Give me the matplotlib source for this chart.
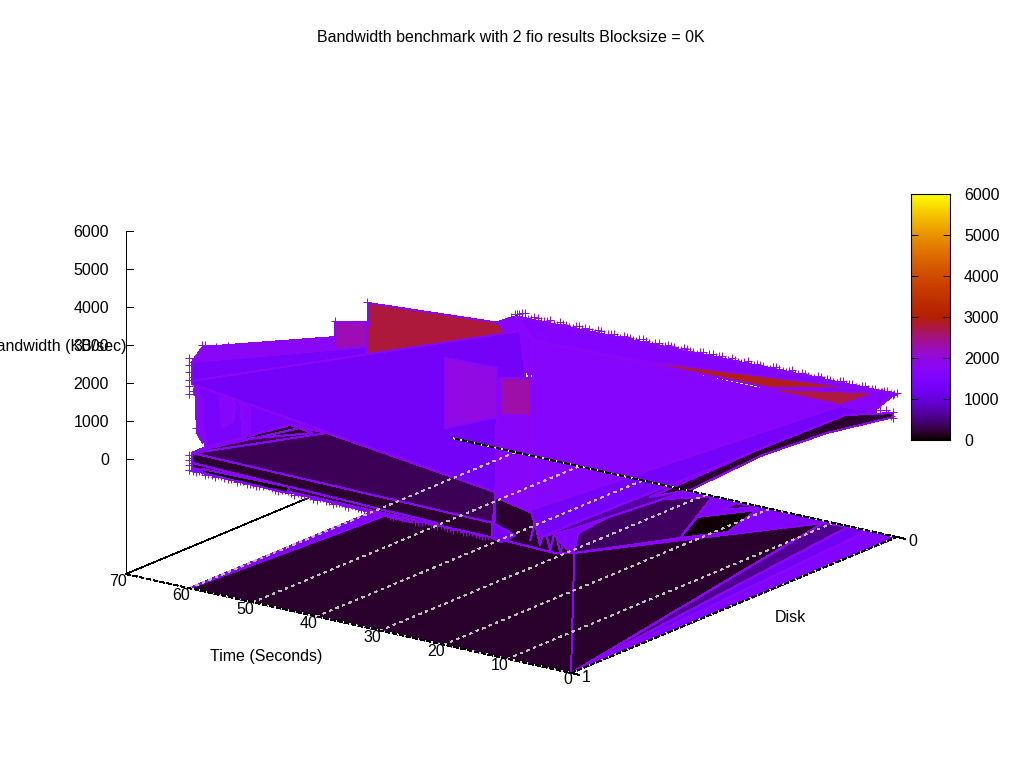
import numpy as np
import matplotlib
matplotlib.use("Agg")
import matplotlib.pyplot as plt
from matplotlib.colors import ListedColormap, Normalize
from matplotlib.patches import Polygon

plt.rcParams['font.family'] = ['Liberation Sans', 'DejaVu Sans']

TITLE = "Bandwidth benchmark with 2 fio results Blocksize = 0K"
XLABEL = "Time (Seconds)"
YLABEL = "Disk"
ZLABEL = "Bandwidth (KB/sec)"
time_ticks = [0, 10, 20, 30, 40, 50, 60, 70]
disk_ticks = [0, 1]
z_ticks = [0, 1000, 2000, 3000, 4000, 5000, 6000]
BASE = -3026

# ---- floor layers: (time, disk), colour value
floor_layers = [
    ([60, 0, 0, 60], [1, 1, 0, 0], 1500),
    ([60, 0, 11.0, 29.2, 57.6], [1, 1, 0.012, 0.421, 0.40], 170),
    ([0, 11.0, 7.5], [1, 0.012, 0.004], 600),
    ([0, 7.5, 4.5], [1, 0.004, 0], 1200),
    ([29.2, 22.0, 28.8, 35.5, 33.7], [0.421, 0.236, 0.005, 0.097, 0.321], 380),
    ([22.0, 18.56, 21.0, 25.43], [0.236, 0.156, 0.02, 0.117], 40),
    ([24.6, 24.98, 21.63], [0.057, 0.01, 0.004], 400),
]

# ---- surface layers: (time, disk, bandwidth), colour value, painted back to front
strip_top = ([59.7, 0.3, 3.1, 57.2], [0, 0, 0, 0], [550, 730, 253, 29], 1550)
red_sliver = ([41.5, 6.3, 20.0], [0, 0, 0], [87, 661, 153], 2900)
red_wedge = ([21.5, 3.1, 9.0], [0, 0, 0], [92, 648, 113], 2750)
back_band = ([57.9, 37.1, 37.1, 59.6], [1, 1, 1, 1], [3400, 4434, 4119, 2941], 1750)
magenta_tab = ([37.1, 32.1, 32.1, 37.1], [1, 1, 1, 1], [4829, 5019, 4282, 4119], 2250)
red_wall = ([31.9, 9.1, 9.1, 32.1], [1, 1, 1, 1], [5524, 5792, 5582, 4150], 2780)
blue_fan = ([59.6, 32.1, 32.1, 59.6], [1, 1, 1, 1], [2941, 4361, 4150, 2415], 1320)
crest = ([11.6, 8.5, 6.0, 6.4, 9.6], [1, 1, 1, 1, 1], [5777, 6050, 5516, 4498, 5379], 1650)
under_blue = ([59.1, 58.8, 57.5, 57.5, 53.1, 44.2, 38.4, 36.3], [1] * 8,
              [2353, 1129, 1174, 779, 1129, 1856, 1862, 2016], 1350)
left_strip = ([59.1, 57.9, 57.9, 58.8], [1] * 4, [2300, 2006, 874, 1103], 1650)
inner_a = ([55.2, 52.8, 53.1, 54.9], [1] * 4, [2185, 2140, 1603, 1406], 1650)
inner_b = ([52.0, 50.5, 50.5, 51.6], [1] * 4, [2142, 2069, 1306, 1240], 1650)
patch_low = ([57.5, 53.1, 59.6], [1] * 3, [779, 1129, 546], 500)
dark_upper = ([59.6, 44.2, 38.4, 11.9, 12.3], [1] * 5, [546, 1856, 1862, 1292, 466], 330)
dark_peak = ([53.1, 44.2, 40.6], [1] * 3, [1129, 1856, 1779], 150)
dark_lower = ([59.6, 12.3, 2.5, 12.1, 59.6], [1] * 5, [546, 466, 37, 77, 99], 200)
dark_front = ([11.9, 6.4, 0.0, 2.5, 12.1], [1] * 5, [1292, 1024, 130, 37, 77], 200)
black_strip = ([58.0, 44.7, 44.2, 58.0], [1] * 4, [79, 50, 224, 185], 50)
blue_notch = ([12.4, 8.8, 11.0, 12.4], [1] * 4, [466, 270, 0, 77], 1300)
big_wedge = ([59.6, 8.0, 4.9, 11.9, 59.6], [1] * 5, [2441, 5677, 1345, 1292, 2362], 1280)
panel_mid = ([19.8, 11.6, 11.6, 19.8], [1] * 4, [4527, 4566, 3277, 2685], 1950)
panel_left = ([11.6, 6.0, 6.4, 11.9], [1] * 4, [4250, 4516, 971, 1161], 1700)
panel_red = ([11.2, 6.4, 6.4, 11.2], [1] * 4, [4321, 4498, 3524, 3348], 2300)
tail_tip = ([9.0, 3.3, 3.3], [0, 0, 0], [87, 613, 140], 1650)
right_wedge = ([57.2, 9.0, 6.4], [0, 0, 1], [29, 87, 1024], 1650)
deep_band = ([4.9, 7.05, 4.48, 5.63, 4.51, 6.99], [1, 0.022, 0.127, 0.301, 0.547, 0.867],
             [371, 0, 0, 0, 0, 0], 700)
blue_band = ([6.4, 9.0, 3.3, 7.05, 4.9], [1, 0, 0, 0.022, 1], [1024, 87, 140, 0, 371], 1300)
tail_dark = ([7.48, 7.05, 0.6, 0.6, 4.48, 5.63, 4.51, 6.9],
             [0.284, 0.022, 0, 0, 0.127, 0.301, 0.547, 0.623],
             [0, 0, 213, 108, 0, 0, 0, 0], 200)
surface_layers = [strip_top, red_sliver, red_wedge, back_band, magenta_tab, red_wall,
                  blue_fan, crest, under_blue, left_strip, inner_a, inner_b, patch_low,
                  dark_upper, dark_peak, dark_lower, dark_front, black_strip, blue_notch,
                  big_wedge, panel_mid, panel_left, panel_red, tail_tip, right_wedge,
                  deep_band, blue_band, tail_dark]

# ---- thin mesh lines (time, disk=1, bandwidth)
mesh_a = ([59.6, 21.1], [283, 137])
mesh_b = ([59.6, 25.3], [152, 6])
mesh_c = ([58.3, 38.4], [619, 1862])
mesh_d = ([58.3, 42.6], [671, 1837])
mesh_e = ([59.6, 12.3], [546, 466])
zigzag = ([6.4, 5.7, 4.9, 4.1, 3.3, 2.5, 1.7, 0.9, 0.5],
          [235, 737, 161, 637, 87, 643, 69, 571, 140])
wall = ([0, 0], [1, 0.99], [BASE, 95])

# ---- "+" points
top_disk0 = [760, 700, 745, 690, 725, 760, 680, 735, 690, 745, 670, 720, 745, 665, 700, 735,
             660, 715, 680, 730, 645, 700, 720, 650, 695, 660, 710, 640, 690, 705, 625, 680,
             645, 700, 620, 670, 690, 610, 660, 630, 685, 600, 655, 675, 595, 640, 610, 665,
             590, 640, 655, 575, 625, 650, 570, 620, 585, 640, 560, 680, 620]
top_disk0_half = [720, 765, 690, 735, 705, 750, 675, 725, 760, 680, 715, 690, 740, 660, 725,
                  690, 745, 655, 700, 720, 640, 705, 670, 725, 635, 690, 655, 715, 650, 680,
                  700, 630, 665, 695, 615, 680, 640, 690, 605, 650, 675, 620, 665, 590, 650,
                  630, 670, 585, 640, 600, 660, 580, 630, 565, 650, 600, 640, 570, 690, 640]
bottom_disk1 = [95, 60, 120, 80, 50, 110, 70, 130, 85, 55, 100, 65, 125, 90, 45, 105, 75, 115,
                60, 95, 50, 120, 85, 65, 110, 40, 100, 70, 125, 55, 90, 80, 45, 115, 75, 100,
                60, 130, 85, 50, 105, 70, 95, 60, 120, 80, 55, 100]
bottom_disk1_half = [70, 110, 45, 90, 125, 65, 100, 50, 115, 80, 40, 95, 130, 60, 85, 110, 50,
                     75, 120, 55, 100, 70, 35, 90, 60, 115, 80, 45, 105, 65, 120, 50, 90, 70,
                     110, 40, 85, 125, 60, 95, 75, 45, 100, 65, 115, 55, 85]
extra_time_disk1 = [60, 60, 60, 60, 60, 60, 59, 58, 58, 60, 60, 60, 60,
                    57.5, 56.1, 55.8, 53.9, 37.1, 32.1, 8.5, 9.4, 7.7,
                    59.5, 59.5, 59.5, 59, 59, 58.5, 58.5, 59.5, 59.5, 58, 57, 51]
extra_bw_disk1 = [3027, 2842, 2658, 2448, 2290, 2079, 1227, 3448, 1211, 474, 348, 216, 80,
                  3464, 3279, 3477, 3574, 4856, 5545, 6106, 5992, 6003,
                  2940, 2550, 2180, 2750, 2350, 1980, 1120, 420, 280, 1700, 3380, 3600]
tail_time_disk0 = [0.6, 0.6, 0.6, 1.4, 2.7, 2.4, 1.0, 1.8, 3.4]
tail_bw_disk0 = [687, 237, 79, 158, 216, 703, 120, 260, 290]


def project(t, d, z):
    t, d, z = np.asarray(t, float), np.asarray(d, float), np.asarray(z, float)
    u = 1 - d
    return (571 - 6.36 * t + 326 * u,
            673 - 1.414 * t - 136 * u - 0.038 * (z - BASE))


xs = np.linspace(0, 1, 256)
palette = ListedColormap(np.c_[np.sqrt(xs), xs ** 3, np.clip(np.sin(2 * np.pi * xs), 0, 1)])
norm = Normalize(0, 6000)
EDGE = palette(norm(1750))
MARK = palette(norm(1850))
FS = 11.5
LW = 0.7

fig = plt.figure(figsize=(10.24, 7.68), dpi=100, facecolor='white')
ax = fig.add_axes([0, 0, 1, 1])
ax.set_xlim(0, 1024)
ax.set_ylim(768, 0)
ax.axis('off')


def poly(px, py, value, zo):
    ax.add_patch(Polygon(np.c_[px, py], closed=True, facecolor=palette(norm(value)),
                         edgecolor=EDGE, linewidth=LW, antialiased=False, zorder=zo))


def seg(px, py, zo=3, **kw):
    opts = dict(color=EDGE, lw=LW, antialiased=False, zorder=zo)
    opts.update(kw)
    ax.plot(px, py, **opts)


def crosses(t, d, z):
    ax.plot(*project(t, np.full(len(t), d), z), ls='none', marker='+', ms=6, mew=0.7,
            color=MARK, antialiased=False, zorder=1.9)


zo = 1.0
for t, d, v in floor_layers:
    px, py = project(t, d, np.full(len(t), BASE))
    poly(px, py, v, zo)
    zo += 0.01
seg(*project([0, 60], [1, 1], [BASE, BASE]), zo=1.5)
seg(*project(wall[0], wall[1], wall[2]), zo=1.5)

zo = 2.0
for layer in surface_layers:
    t, d, z, v = layer
    px, py = project(t, d, z)
    poly(px, py, v, zo)
    zo += 0.01
    if layer is dark_front:
        for m in (mesh_a, mesh_b, mesh_c, mesh_d, mesh_e, zigzag):
            seg(*project(m[0], np.ones(len(m[0])), m[1]), zo=zo)
        zo += 0.01

crosses(np.arange(len(top_disk0)), 0, top_disk0)
crosses(np.arange(len(top_disk0_half)) + 0.5, 0, top_disk0_half)
crosses(60 - np.arange(len(bottom_disk1)), 1, bottom_disk1)
crosses(59.5 - np.arange(len(bottom_disk1_half)), 1, bottom_disk1_half)
crosses(np.array(extra_time_disk1), 1, extra_bw_disk1)
crosses(np.array(tail_time_disk0), 0, tail_bw_disk0)

# grid over the floor
for t in time_ticks[1:-1]:
    px, py = project([t, t], [1, 0], [BASE, BASE])
    ax.plot(px, py, color='#bdbdbd', lw=0.5, dashes=(3, 6), antialiased=False, zorder=6)

# floor border
for tt, dd in (([70, 0], [1, 1]), ([0, 0], [1, 0]), ([0, 70], [0, 0])):
    px, py = project(tt, dd, [BASE, BASE])
    ax.plot(px, py, color='#dddddd', lw=0.5, antialiased=False, zorder=6)
    ax.plot(px, py, color='black', lw=0.5, dashes=(6, 3), antialiased=False, zorder=6.1)
px, py = project([70, 70], [1, 0], [BASE, BASE])
ax.plot(px, py, color='black', lw=0.5, antialiased=False, zorder=1.8)

# z axis
px, py = project([70, 70], [1, 1], [BASE, 6000])
ax.plot(px, py, color='black', lw=LW, antialiased=False, zorder=6)
for z in z_ticks:
    zx, zy = project(70, 1, z)
    ax.plot([zx, zx + 7], [zy, zy], color='black', lw=LW, antialiased=False, zorder=6)
    ax.text(zx - 17, zy + 1, str(z), ha='right', va='center', fontsize=FS, zorder=7)

for t in time_ticks:
    tx, ty = project(t, 1, BASE)
    ax.text(tx + 1, ty + 7, str(t), ha='right', va='center', fontsize=FS, zorder=7)
for d in disk_ticks:
    dx, dy = project(0, d, BASE)
    ex, ey = project(-1.2, d, BASE)
    ax.plot([dx, ex], [dy, ey], color='black', lw=LW, antialiased=False, zorder=6)
    ax.text(dx + 11, dy + 5, str(d), ha='left', va='center', fontsize=FS, zorder=7)

ax.text(511, 38, TITLE, ha='center', va='center', fontsize=FS, zorder=7)
ax.text(266, 657, XLABEL, ha='center', va='center', fontsize=FS, zorder=7)
ax.text(790, 617, YLABEL, ha='center', va='center', fontsize=FS, zorder=7)
ax.text(126, 346, ZLABEL, ha='right', va='center', fontsize=FS, zorder=7)

# colour box
cax = fig.add_axes([911 / 1024, (768 - 440) / 768, 39 / 1024, 246 / 768])
cax.imshow(np.linspace(1, 0, 256).reshape(-1, 1), cmap=palette, vmin=0, vmax=1, aspect='auto',
           extent=[0, 1, 0, 6000])
cax.set_xticks([])
cax.set_yticks(z_ticks)
cax.yaxis.tick_right()
cax.tick_params(axis='y', which='both', direction='in', left=True, right=True, length=5, width=0.7,
                pad=10, labelsize=FS, labelright=True, labelleft=False)
for s in cax.spines.values():
    s.set_linewidth(0.8)

fig.savefig('out.png', dpi=100)
